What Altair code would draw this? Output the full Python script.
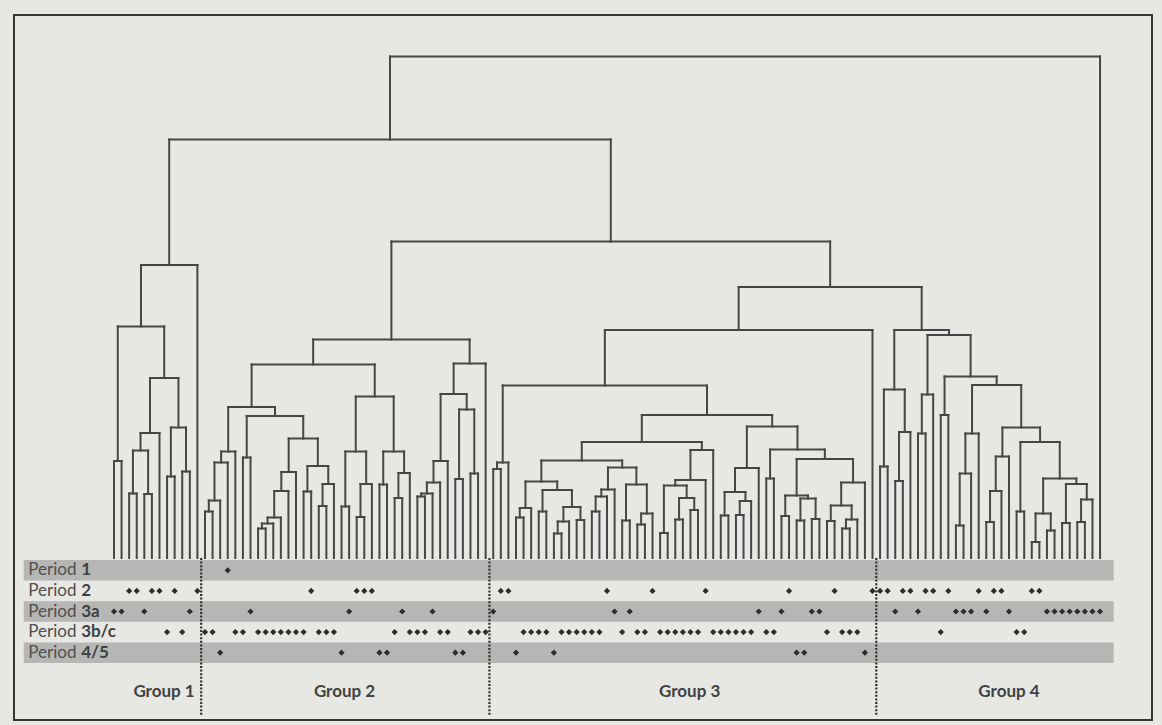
import altair as alt
import pandas as pd

# ---------------------------------------------------------------------------
# Cluster tree: each node is [merge distance, left, right]; "." is one site.
# ---------------------------------------------------------------------------
GROUP_1 = [58.6,
           [46.3,
            [19.4, ".", "."],
            [36.0,
             [25.0, [21.5, [12.9, ".", "."], [12.8, ".", "."]], "."],
             [26.1, [16.3, ".", "."], [17.3, ".", "."]]]],
           "."]

GROUP_2 = [43.7,
           [38.7,
            [30.2,
             [21.3, [19.1, [11.5, [9.3, ".", "."], "."], "."], "."],
             [28.4,
              [20.1, ".", "."],
              [23.9,
               [17.2, [13.4, [8.1, [6.9, [5.9, ".", "."], "."], "."], "."], "."],
               [18.4, [13.3, ".", "."], [14.8, [10.4, ".", "."], "."]]]]],
            [32.3,
             [21.3, [10.3, ".", "."], [14.8, [8.2, ".", "."], "."]],
             [21.3, [14.7, ".", "."], [17.0, [12.0, ".", "."], "."]]]],
           [38.9,
            [32.8,
             [19.4, [15.1, [12.9, [12.3, ".", "."], "."], "."], "."],
             [29.7, [15.8, ".", "."], [16.9, ".", "."]]],
            "."]]

GROUP_3 = [45.6,
           [34.5,
            [19.1, [17.8, ".", "."], "."],
            [28.6,
             [23.2,
              [19.5,
               [15.3,
                [10.0, [8.1, ".", "."], "."],
                [13.6, [9.3, ".", "."],
                 [10.2, [7.3, [4.9, ".", "."], "."], [7.6, ".", "."]]]],
               [18.1,
                [13.7, [12.3, [9.3, ".", "."], "."], "."],
                [14.7, [7.5, ".", "."], [8.9, [6.7, ".", "."], "."]]]],
              [21.6,
               [15.6,
                [14.5, [5.0, ".", "."], [12.0, [7.7, ".", "."], [9.6, ".", "."]]],
                "."],
               "."]],
             [26.3,
              [18.0, [13.2, [8.5, ".", "."], [11.4, [8.6, ".", "."], "."]], "."],
              [21.7,
               [15.9, ".", "."],
               [19.8,
                [12.5, [8.4, ".", "."], [11.9, [7.5, ".", "."], [7.8, ".", "."]]],
                [15.1, [10.5, [7.4, ".", "."], [7.7, [5.9, ".", "."], "."]], "."]]]]]],
           "."]

GROUP_4 = [45.6,
           [33.7, [18.3, ".", "."], [25.2, [15.4, ".", "."], "."]],
           [44.6,
            [32.7, [24.9, ".", "."], "."],
            [36.3,
             [28.6, ".", "."],
             [34.6,
              [24.9, [16.9, [6.5, ".", "."], "."], "."],
              [26.1,
               [20.3, [13.4, [7.2, ".", "."], "."], "."],
               [23.2,
                [9.3, ".", "."],
                [15.9,
                 [8.9, [3.2, ".", "."], [5.5, ".", "."]],
                 [14.8, [7.0, ".", "."], [11.7, [7.2, ".", "."], "."]]]]]]]]]

# higher merges: groups 3+4, then group 2, then group 1, then the lone last site
MERGE_3_4 = 54.2
MERGE_2_34 = 63.3
MERGE_1_234 = 83.7
MERGE_ROOT = 100.3

# ---------------------------------------------------------------------------
# Period of every site, in dendrogram order
# ---------------------------------------------------------------------------
PERIODS = ["1", "2", "3a", "3b/c", "4/5"]

SITES_GROUP_1 = ["3a", "3a", "2", "2", "3a", "2", "2", "3b/c", "2", "3b/c", "3a", "2"]
SITES_GROUP_2 = (["3b/c", "3b/c", "4/5", "1", "3b/c", "3b/c", "3a"] + ["3b/c"] * 7
                 + ["2"] + ["3b/c"] * 3 + ["4/5", "3a"] + ["2"] * 3 + ["4/5"] * 2
                 + ["3b/c", "3a"] + ["3b/c"] * 3 + ["3a"] + ["3b/c"] * 2
                 + ["4/5"] * 2 + ["3b/c"] * 3)
SITES_GROUP_3 = (["3a", "2", "2", "4/5"] + ["3b/c"] * 4 + ["4/5"] + ["3b/c"] * 6
                 + ["2", "3a", "3b/c", "3a", "3b/c", "3b/c", "2"] + ["3b/c"] * 6
                 + ["2"] + ["3b/c"] * 6 + ["3a", "3b/c", "3b/c", "3a", "2", "4/5", "4/5",
                 "3a", "3a", "3b/c", "2", "3b/c", "3b/c", "3b/c", "4/5", "2"])
SITES_GROUP_4 = (["2", "2", "3a", "2", "2", "3a", "2", "2", "3b/c", "2", "3a", "3a", "3a",
                  "2", "3a", "2", "2", "3a", "3b/c", "3b/c", "2", "2"] + ["3a"] * 7)
SITE_LAST = "3a"

GROUP_NAMES = ["Group 1", "Group 2", "Group 3", "Group 4"]

# ---------------------------------------------------------------------------
# Layout (scale domains and label anchors, in site / distance units)
# ---------------------------------------------------------------------------
WIDTH, HEIGHT = 1138, 705
X_DOMAIN = [-13.18, 136.85]
Y_DOMAIN = [-32.4, 108.6]
ROW_TOP, ROW_H = -0.4, 4.12
BAND_X0, BAND_X1 = -11.9, 131.8
LABEL_X = -11.3
GROUP_LABEL_X = [6.6, 30.4, 75.9, 118.0]
GROUP_LABEL_Y = -26.8
SEPARATOR_Y1 = -31.6

INK = "#464646"
PAPER = "#e7e7e4"
BAND = "#b6b6b5"


def build_tree():
    segs = []
    counter = [0]

    def walk(node):
        if node == ".":
            i = counter[0]
            counter[0] += 1
            return float(i), 0.0
        h, a, b = node
        xa, ha = walk(a)
        xb, hb = walk(b)
        segs.append((xa, xa, ha, h))
        segs.append((xb, xb, hb, h))
        segs.append((xa, xb, h, h))
        return (xa + xb) / 2.0, h

    tree = [MERGE_ROOT,
            [MERGE_1_234, GROUP_1, [MERGE_2_34, GROUP_2, [MERGE_3_4, GROUP_3, GROUP_4]]],
            "."]
    walk(tree)
    return pd.DataFrame(segs, columns=["x", "x2", "y", "y2"])


def count_sites(node):
    if node == ".":
        return 1
    return count_sites(node[1]) + count_sites(node[2])


segments = build_tree()

row_mid = {p: ROW_TOP - ROW_H * (k + 0.5) for k, p in enumerate(PERIODS)}
bands = pd.DataFrame([
    {"x": BAND_X0, "x2": BAND_X1,
     "y": ROW_TOP - ROW_H * k, "y2": ROW_TOP - ROW_H * (k + 1)}
    for k, p in enumerate(PERIODS) if k % 2 == 0
])

all_sites = SITES_GROUP_1 + SITES_GROUP_2 + SITES_GROUP_3 + SITES_GROUP_4 + [SITE_LAST]
marks = pd.DataFrame({"x": [float(i) for i in range(len(all_sites))],
                      "y": [row_mid[p] for p in all_sites]})

labels = pd.DataFrame({"x": [LABEL_X] * len(PERIODS),
                       "y": [row_mid[p] for p in PERIODS],
                       "word": ["Period"] * len(PERIODS),
                       "code": PERIODS})

sizes = [count_sites(g) for g in (GROUP_1, GROUP_2, GROUP_3, GROUP_4)]
bounds, run = [], 0
for s in sizes[:-1]:
    run += s
    bounds.append(run - 0.5)
separators = pd.DataFrame({"x": bounds, "y": [0.0] * len(bounds),
                           "y2": [SEPARATOR_Y1] * len(bounds)})

groups = pd.DataFrame({"x": GROUP_LABEL_X, "y": [GROUP_LABEL_Y] * 4,
                       "name": GROUP_NAMES})

xs = alt.Scale(domain=X_DOMAIN, nice=False, zero=False)
ys = alt.Scale(domain=Y_DOMAIN, nice=False, zero=False)
X = alt.X("x:Q", scale=xs, axis=None)
Y = alt.Y("y:Q", scale=ys, axis=None)

band_layer = alt.Chart(bands).mark_rect(color=BAND).encode(x=X, x2="x2:Q", y=Y, y2="y2:Q")

sep_layer = alt.Chart(separators).mark_rule(
    color="#2e2e2e", strokeWidth=2.2, strokeDash=[2, 1.6]
).encode(x=X, y=Y, y2="y2:Q")

tree_layer = alt.Chart(segments).mark_rule(
    color=INK, strokeWidth=2, strokeCap="square"
).encode(x=X, x2="x2:Q", y=Y, y2="y2:Q")

mark_layer = alt.Chart(marks).mark_point(
    shape="diamond", filled=True, size=38, color="#2c2c2c", opacity=1
).encode(x=X, y=Y)

word_layer = alt.Chart(labels).mark_text(
    align="left", baseline="middle", font="Lato", fontSize=17, color="#505050"
).encode(x=X, y=Y, text="word:N")

code_layer = alt.Chart(labels).mark_text(
    align="left", baseline="middle", font="Lato", fontSize=17, fontWeight="bold",
    color="#404040", dx=53
).encode(x=X, y=Y, text="code:N")

group_layer = alt.Chart(groups).mark_text(
    align="center", baseline="middle", font="Lato", fontSize=17, fontWeight="bold",
    color="#424242"
).encode(x=X, y=Y, text="name:N")

chart = alt.layer(
    band_layer, sep_layer, tree_layer, mark_layer, word_layer, code_layer, group_layer
).properties(
    width=WIDTH, height=HEIGHT,
    autosize=alt.AutoSizeParams(type="none"),
    padding={"left": 14, "top": 15, "right": 10, "bottom": 5},
).configure(
    background=PAPER
).configure_view(
    stroke="#353535", strokeWidth=2
)

chart.save("out.html", embed_options={"renderer": "svg", "actions": False})
